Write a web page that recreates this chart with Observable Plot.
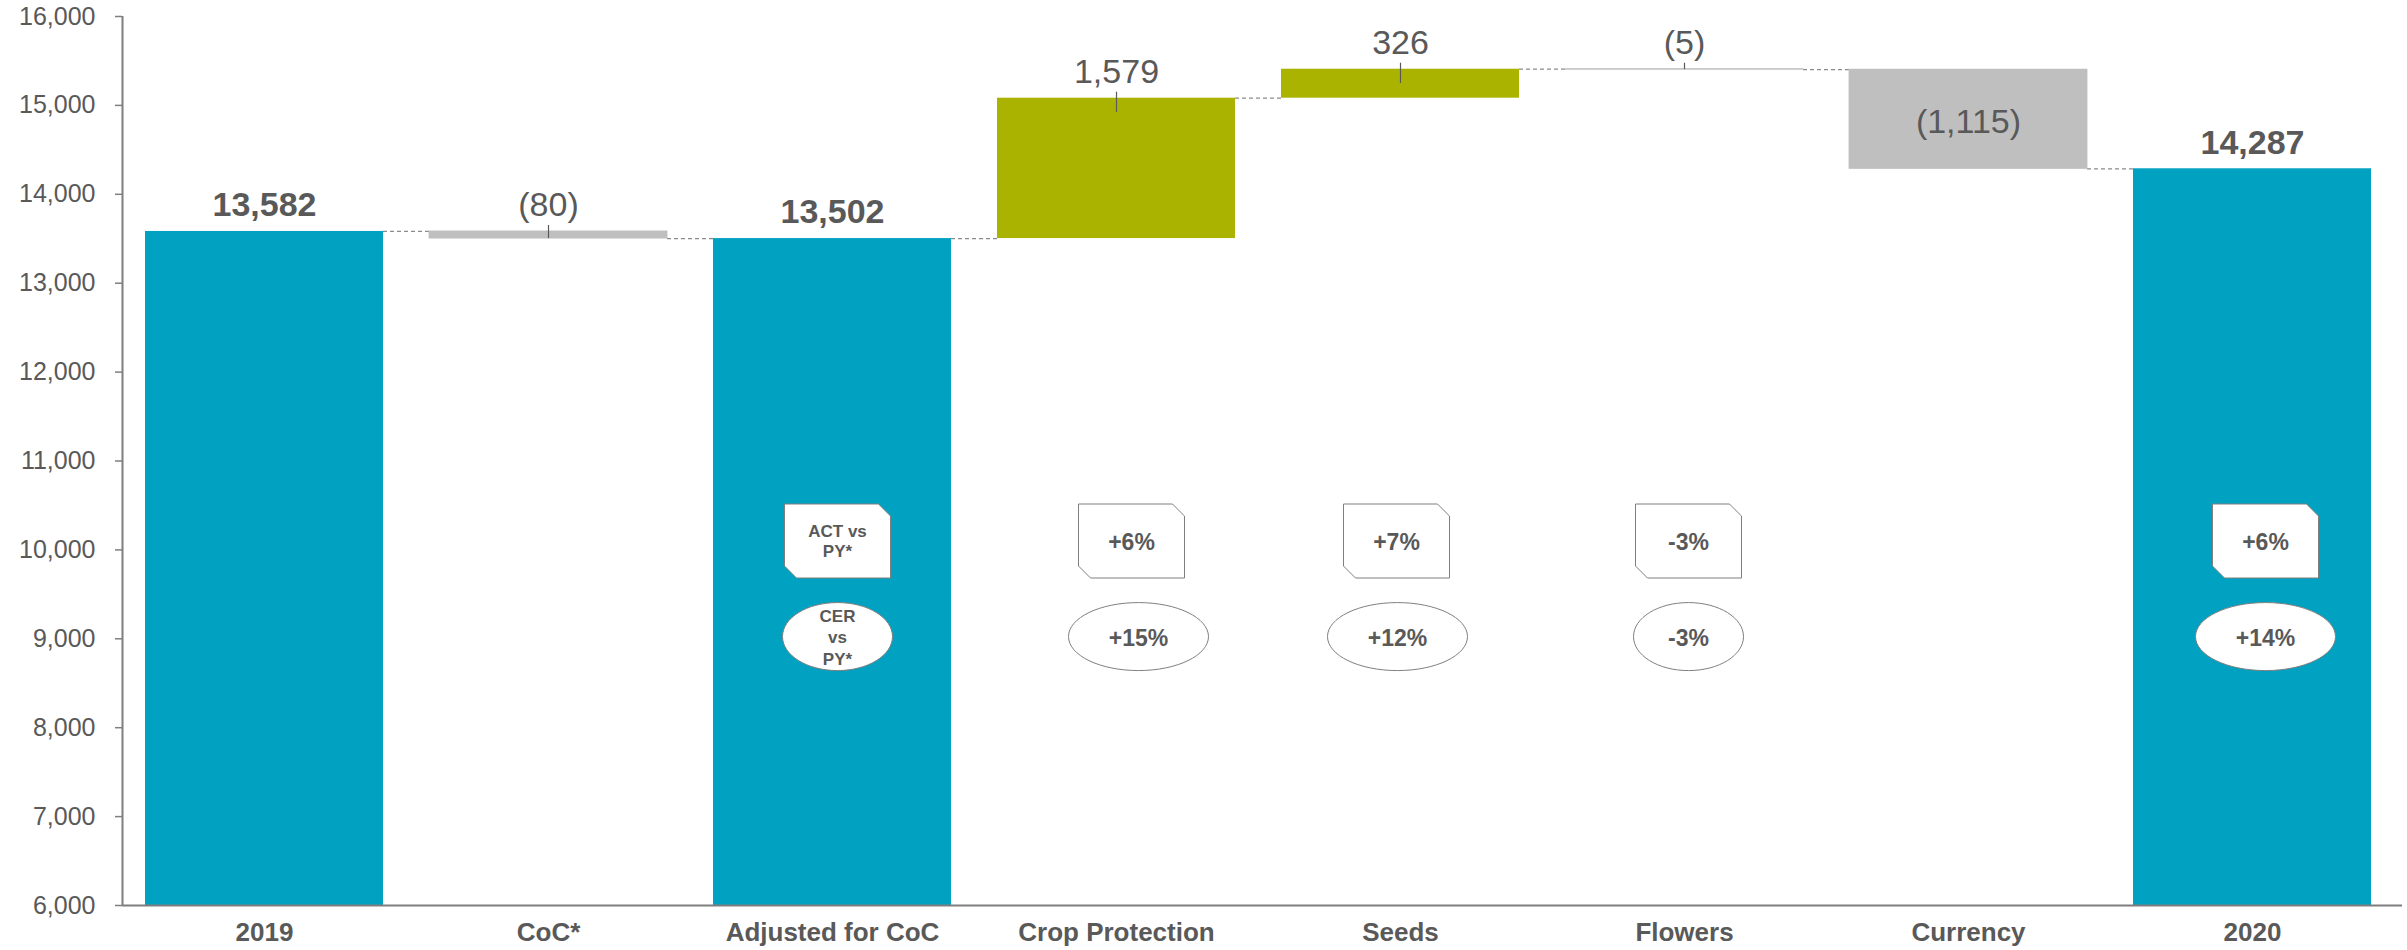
<!DOCTYPE html>
<html><head><meta charset="utf-8">
<script src="https://cdn.jsdelivr.net/npm/d3@7"></script>
<script src="https://cdn.jsdelivr.net/npm/@observablehq/plot@0.6"></script>
<style>html,body{margin:0;padding:0;background:#fff} svg{display:block}</style>
</head><body><div id="chart"></div>
<script>
// ---- data ----
const categories = ["2019", "CoC*", "Adjusted for CoC", "Crop Protection", "Seeds", "Flowers", "Currency", "2020"];
const values = [13582, -80, 13502, 1579, 326, -5, -1115, 14287];
const kinds = ["total", "delta", "total", "delta", "delta", "delta", "delta", "total"];
const valueLabels = ["13,582", "(80)", "13,502", "1,579", "326", "(5)", "(1,115)", "14,287"];
const yTicks = [6000, 7000, 8000, 9000, 10000, 11000, 12000, 13000, 14000, 15000, 16000];
const annCategories = ["Adjusted for CoC", "Crop Protection", "Seeds", "Flowers", "2020"];
const actLabels = ["ACT vs\nPY*", "+6%", "+7%", "-3%", "+6%"];
const cerLabels = ["CER\nvs\nPY*", "+15%", "+12%", "-3%", "+14%"];

// ---- layout / style ----
const W = 2407, H = 950, ML = 122, MR = 13, MT = 16, MB = 45;
const step = (W - ML - MR) / categories.length;
const barInset = 23;
const yMin = 6000, yMax = 16000;
const BLUE = "#00a1c1", GREEN = "#aab400", GREY = "#bfbfbf", TEXT = "#595959", AXIS = "#7f7f7f";
const FONT = "'Liberation Sans', Arial, Helvetica, sans-serif";
const actY = 10100, cerY = 9025;
// horizontal nudges (px) of the hand-placed annotation shapes: [box, ellipse]
const annNudge = {"Adjusted for CoC": [5, 5], "Crop Protection": [15, 22], "Seeds": [-4, -3], "Flowers": [4, 4], "2020": [13, 13]};

// ---- derived rows ----
let run = 0;
const rows = categories.map((c, i) => {
  const v = values[i];
  let y1, y2;
  if (kinds[i] === "total") { y1 = yMin; y2 = v; run = v; }
  else { y1 = run; y2 = run + v; run = run + v; }
  const top = Math.max(y1, y2), bottom = Math.min(y1, y2);
  const fill = kinds[i] === "total" ? BLUE : (v > 0 ? GREEN : GREY);
  const inside = kinds[i] === "delta" && v < -1000;
  return {cat: c, y1, y2, top, bottom, end: run, fill, label: valueLabels[i], kind: kinds[i], inside};
});
const connectors = rows.slice(0, -1).map((r, i) => ({from: r.cat, to: rows[i + 1].cat, level: r.end}));
const ann = annCategories.map((c, i) => ({cat: c, act: actLabels[i], cer: cerLabels[i]}));

// ---- custom symbols ----
function snipRect(w, h, c) {
  const a = w / 2, b = h / 2;
  return {draw(ctx) {
    ctx.moveTo(-a, -b); ctx.lineTo(a - c, -b); ctx.lineTo(a, -b + c); ctx.lineTo(a, b);
    ctx.lineTo(-a + c, b); ctx.lineTo(-a, b - c); ctx.closePath();
  }};
}
function ellipse(w, h) {
  const rx = w / 2, ry = h / 2, k = 0.5523;
  return {draw(ctx) {
    ctx.moveTo(rx, 0);
    ctx.bezierCurveTo(rx, ry * k, rx * k, ry, 0, ry);
    ctx.bezierCurveTo(-rx * k, ry, -rx, ry * k, -rx, 0);
    ctx.bezierCurveTo(-rx, -ry * k, -rx * k, -ry, 0, -ry);
    ctx.bezierCurveTo(rx * k, -ry, rx, -ry * k, rx, 0);
    ctx.closePath();
  }};
}
const isWide = (t) => !t.includes("\n") && t.length >= 4;
const multi = (t) => t.includes("\n");

const annMarks = ann.flatMap((d) => {
  const [nb, ne] = annNudge[d.cat] || [0, 0];
  return [
    Plot.dot([d], {x: "cat", y: () => actY, symbol: snipRect(106, 74, 12), fill: "white", stroke: AXIS, strokeWidth: 1, dx: nb}),
    Plot.dot([d], {x: "cat", y: () => cerY, symbol: ellipse(isWide(d.cer) ? 140 : 110, 68), fill: "white", stroke: AXIS, strokeWidth: 1, dx: ne}),
    Plot.text([d], {x: "cat", y: () => actY, text: "act", fontSize: multi(d.act) ? 17 : 23, lineHeight: 1.18,
      fontWeight: "bold", fill: TEXT, lineAnchor: "middle", dx: nb}),
    Plot.text([d], {x: "cat", y: () => cerY, text: "cer", fontSize: multi(d.cer) ? 17 : 23, lineHeight: 1.25,
      fontWeight: "bold", fill: TEXT, lineAnchor: "middle", dx: ne})
  ];
});

const chart = Plot.plot({
  width: W, height: H,
  marginLeft: ML, marginRight: MR, marginTop: MT, marginBottom: MB,
  style: {fontFamily: FONT, background: "#fff", overflow: "visible"},
  x: {domain: categories, padding: 0, label: null},
  y: {domain: [yMin, yMax], label: null},
  marks: [
    // connectors
    Plot.ruleY(connectors, {y: "level", x1: "from", x2: "to",
      insetLeft: step - barInset, insetRight: step - barInset,
      stroke: "#8c8c8c", strokeWidth: 1.3, strokeDasharray: "4,3"}),
    // bars
    Plot.barY(rows, {x: "cat", y1: "y1", y2: "y2", fill: "fill", insetLeft: barInset, insetRight: barInset}),
    Plot.barY(rows.filter(d => d.fill === GREY), {x: "cat", y1: "y1", y2: "y2", fill: GREY, stroke: GREY, strokeWidth: 0.8, insetLeft: barInset, insetRight: barInset}),
    // axes lines
    Plot.ruleY([yMin], {stroke: AXIS, strokeWidth: 2, insetRight: -8}),
    Plot.ruleX([categories[0]], {stroke: AXIS, strokeWidth: 2, dx: -step / 2}),
    Plot.axisY({ticks: yTicks, tickFormat: d3.format(","), tickSize: 7, tickPadding: 20,
      fontSize: 25, fill: TEXT, stroke: AXIS, strokeWidth: 1.5, label: null}),
    Plot.axisX({tickSize: 0, tickPadding: 17, fontSize: 26, fontWeight: "bold", fill: TEXT, label: null}),
    // leader lines
    Plot.ruleX(rows.filter(d => d.kind === "delta" && !d.inside), {x: "cat",
      y1: "top", y2: d => Math.max(d.bottom, d.top - 160), insetTop: -6,
      stroke: "#595959", strokeWidth: 1.2}),
    // value labels
    Plot.text(rows.filter(d => d.kind === "total"), {x: "cat", y: "top", text: "label", dy: -26,
      fontSize: 34, fontWeight: "bold", fill: TEXT, lineAnchor: "middle"}),
    Plot.text(rows.filter(d => d.kind === "delta" && !d.inside), {x: "cat", y: "top", text: "label", dy: -26,
      fontSize: 34, fill: TEXT, lineAnchor: "middle"}),
    Plot.text(rows.filter(d => d.inside), {x: "cat", y: d => (d.y1 + d.y2) / 2, text: "label", dy: 3,
      fontSize: 34, fill: TEXT, lineAnchor: "middle"}),
    // annotations
    ...annMarks
  ]
});
document.getElementById("chart").appendChild(chart);
</script>
</body></html>
